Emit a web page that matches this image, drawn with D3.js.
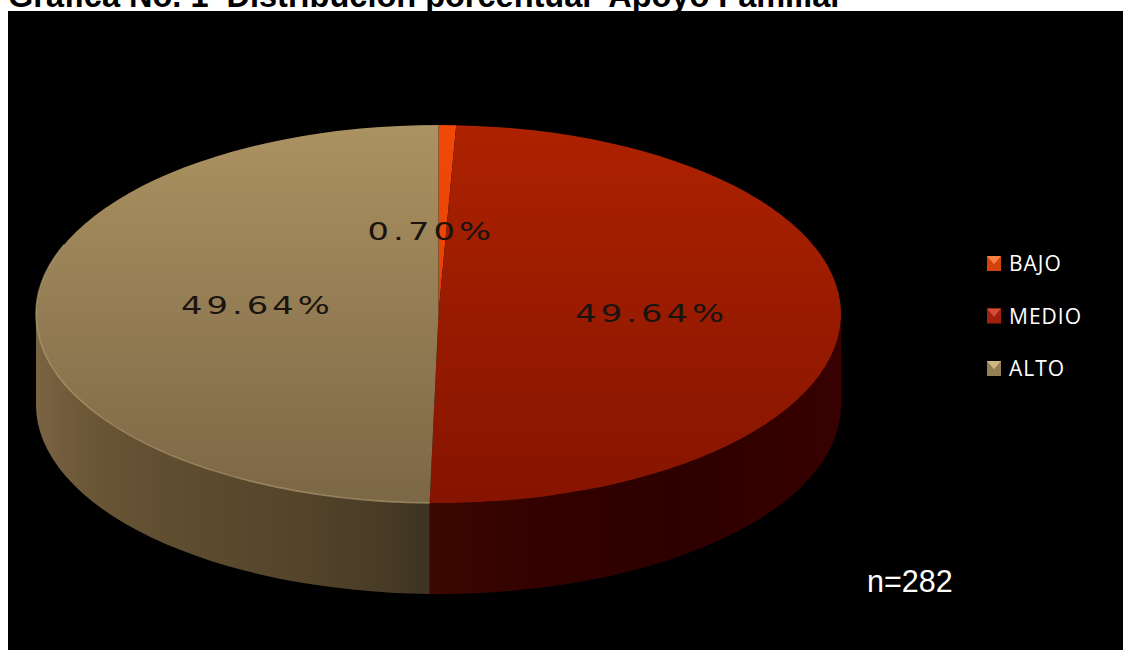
<!DOCTYPE html>
<html>
<head>
<meta charset="utf-8">
<script src="https://cdn.jsdelivr.net/npm/d3@7"></script>
<style>
  html, body { margin: 0; padding: 0; background: #ffffff; }
  svg { display: block; }
</style>
</head>
<body>
<svg id="chart" width="1131" height="650"></svg>
<script>
// ---- data ----
const categories = ["BAJO", "MEDIO", "ALTO"];
const values = [0.70, 49.64, 49.64];
const labels = ["0.70%", "49.64%", "49.64%"];
const title = "Gráfica No. 1  Distribución porcentual  Apoyo Familiar";
const note = "n=282";

// ---- layout / style ----
const W = 1131, H = 650;
const cx = 438.5, cy = 314, rx = 402.5, ry = 189, depth = 91;
const topColors = [["#f04a0a", "#d83a00"], ["#ad2200", "#861400"], ["#ab9261", "#7c6746"]];
const legendBase = ["#d4420c", "#a2200e", "#958055"];
const legendLight = ["#ff8a52", "#e2553e", "#d8c18e"];
const labelFactor = [0.43, 0.53, 0.45];
const labelShift = [[-11, 7], [0, 5], [0, 1]];

const svg = d3.select("#chart");
const defs = svg.append("defs");

// title (partially cut at top, as in the original)
svg.append("text")
  .attr("x", 8).attr("y", 7)
  .attr("font-family", "Liberation Sans, Arial, sans-serif")
  .attr("font-weight", "bold")
  .attr("font-size", 32.5)
  .attr("fill", "#000")
  .attr("xml:space", "preserve")
  .style("white-space", "pre")
  .text(title);

// black chart area
svg.append("rect").attr("x", 8).attr("y", 11).attr("width", 1115).attr("height", H - 11).attr("fill", "#000");

const pie = d3.pie().sort(null).value(d => d)(values);

function pt(a, dy = 0, f = 1) {
  return [cx + f * rx * Math.sin(a), cy - f * ry * Math.cos(a) + dy];
}

// gradients for top surfaces
categories.forEach((c, i) => {
  const g = defs.append("linearGradient").attr("id", "top" + i)
    .attr("gradientUnits", "userSpaceOnUse")
    .attr("x1", 0).attr("y1", cy - ry).attr("x2", 0).attr("y2", cy + ry);
  g.append("stop").attr("offset", 0).attr("stop-color", topColors[i][0]);
  g.append("stop").attr("offset", 1).attr("stop-color", topColors[i][1]);
});

// side gradients (horizontal)
const sideStops = [
  [["0", "#6a2000"], ["1", "#4a1000"]],
  [["0", "#3c0700"], ["0.25", "#330200"], ["0.6", "#2d0000"], ["1", "#370100"]],
  [["0", "#7a6443"], ["0.12", "#6c5737"], ["0.35", "#5f4d30"], ["0.6", "#56462b"], ["0.85", "#4b3e27"], ["1", "#3e3322"]]
];
const sideX = [[cx - 20, cx + 20], [cx - 10, cx + rx], [cx - rx, cx - 10]];
categories.forEach((c, i) => {
  const g = defs.append("linearGradient").attr("id", "side" + i)
    .attr("gradientUnits", "userSpaceOnUse")
    .attr("x1", sideX[i][0]).attr("y1", 0).attr("x2", sideX[i][1]).attr("y2", 0);
  sideStops[i].forEach(s => g.append("stop").attr("offset", s[0]).attr("stop-color", s[1]));
});

// sides (front half only)
pie.forEach((d, i) => {
  const s = Math.max(d.startAngle, Math.PI / 2);
  const e = Math.min(d.endAngle, 3 * Math.PI / 2);
  if (e <= s) return;
  const p0 = pt(s), p1 = pt(e), q1 = pt(e, depth), q0 = pt(s, depth);
  const path = `M${p0}A${rx},${ry} 0 0 1 ${p1}L${q1}A${rx},${ry} 0 0 0 ${q0}Z`;
  svg.append("path").attr("d", path).attr("fill", `url(#side${i})`);
});

// top surfaces
pie.forEach((d, i) => {
  const p0 = pt(d.startAngle), p1 = pt(d.endAngle);
  const large = (d.endAngle - d.startAngle) > Math.PI ? 1 : 0;
  const path = `M${cx},${cy}L${p0}A${rx},${ry} 0 ${large} 1 ${p1}Z`;
  svg.append("path").attr("d", path).attr("fill", `url(#top${i})`);
});

// rim highlight on the front edge of the light slice
{
  const d = pie[2];
  const s = d.startAngle, e = Math.min(d.endAngle, 1.62 * Math.PI);
  svg.append("path")
    .attr("d", `M${pt(s)}A${rx},${ry} 0 0 1 ${pt(e)}`)
    .attr("fill", "none").attr("stroke", "#c8b080").attr("stroke-opacity", 0.55).attr("stroke-width", 1.5);
}

// labels (wide geometric look: horizontally stretched)
pie.forEach((d, i) => {
  const m = (d.startAngle + d.endAngle) / 2;
  const p = pt(m, 0, labelFactor[i]);
  svg.append("g")
    .attr("transform", `translate(${p[0] + labelShift[i][0]},${p[1] + labelShift[i][1]}) scale(1.35,1)`)
    .append("text")
    .attr("text-anchor", "middle")
    .attr("font-family", "DejaVu Sans, sans-serif")
    .attr("font-size", 25)
    .attr("letter-spacing", 3)
    .attr("fill", "#1a1410")
    .text(labels[i]);
});

// legend
const lg = svg.append("g");
categories.forEach((c, i) => {
  const y = 256 + i * 52.5;
  const x = 987;
  const s = 15;
  lg.append("rect").attr("x", x).attr("y", y).attr("width", s - 1).attr("height", s).attr("fill", legendBase[i]);
  lg.append("path").attr("d", `M${x},${y}L${x + s - 1},${y}L${x + (s - 1) / 2},${y + s * 0.55}Z`).attr("fill", legendLight[i]).attr("opacity", 0.85);
  lg.append("text")
    .attr("x", 1009).attr("y", y + 15)
    .attr("font-family", "Open Sans, sans-serif")
    .attr("font-size", 21)
    .attr("letter-spacing", 1)
    .attr("fill", "#ffffff")
    .text(c);
});

// n note
svg.append("text")
  .attr("x", 867).attr("y", 592)
  .attr("font-family", "Liberation Sans, Arial, sans-serif")
  .attr("font-size", 30.5)
  .attr("fill", "#ffffff")
  .text(note);
</script>
</body>
</html>
